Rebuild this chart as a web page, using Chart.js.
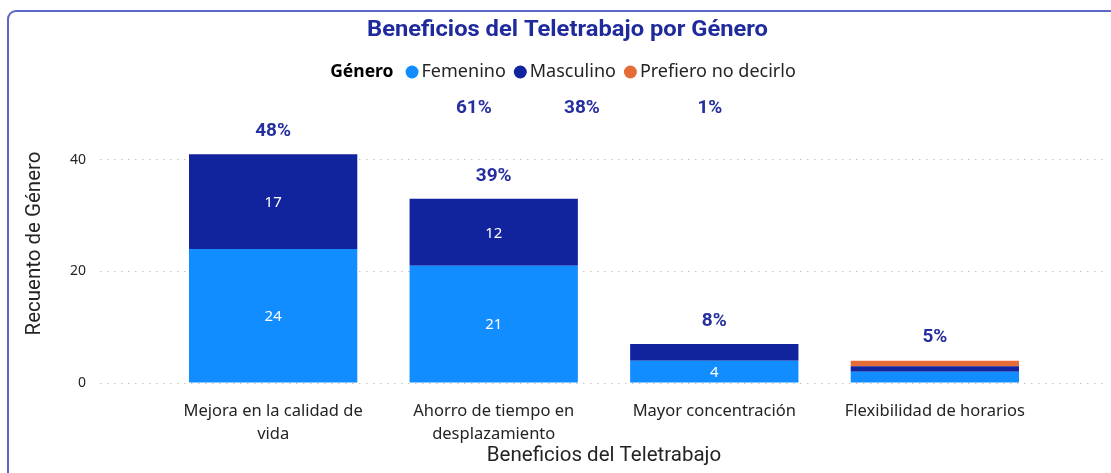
<!DOCTYPE html>
<html><head><meta charset="utf-8">
<script src="https://cdn.jsdelivr.net/npm/chart.js@4.4.1/dist/chart.umd.min.js"></script>
<style>
html,body{margin:0;padding:0;background:#fff;overflow:hidden;width:1111px;height:473px}
#frame{position:absolute;left:7px;top:10px;width:1130px;height:500px;border:2px solid #5d68c6;border-radius:9px;box-sizing:border-box}
#wrap{position:absolute;left:0;top:0;width:1111px;height:473px}
</style></head><body>
<div id="frame"></div>
<div id="wrap"><canvas id="c" width="1111" height="473"></canvas></div>
<script>
// ---- data ----
const categories = [["Mejora en la calidad de","vida"],["Ahorro de tiempo en","desplazamiento"],["Mayor concentración"],["Flexibilidad de horarios"]];
const seriesNames = ["Femenino","Masculino","Prefiero no decirlo"];
const femenino = [24,21,4,2];
const masculino = [17,12,3,1];
const prefiero = [0,0,0,1];
const totalPct = ["48%","39%","8%","5%"];
const extraPctText = ["61%","38%","1%"];
const extraPctAt = [0.91,1.40,1.98];
const yTicks = [0,20,40];

const colors = ["#118DFF","#12239E","#E66C37"];
const pctColor = "#25309E";
const txt = "#252423";
const FF = '"Segoe UI","Noto Sans","Open Sans",sans-serif';
const DIN = 'Roboto,"DejaVu Sans Condensed",sans-serif';

function toPts(arr){ return arr.map((v,i)=>({x:i,y:v})); }

const overlay = {
  id:'overlay',
  afterDatasetsDraw(chart){
    const {ctx, scales:{x,y}} = chart;
    ctx.save();
    ctx.textAlign='center'; ctx.textBaseline='middle';
    ctx.font = '15px '+FF; ctx.fillStyle='#fff';
    chart.data.datasets.forEach((ds,di)=>{
      const meta = chart.getDatasetMeta(di);
      meta.data.forEach((bar,i)=>{
        const v = ds.data[i].y;
        const h = Math.abs(bar.base - bar.y);
        if (v>0 && h>=20) ctx.fillText(String(v), bar.x, (bar.y+bar.base)/2+1);
      });
    });
    ctx.font = 'bold 19px '+DIN; ctx.fillStyle = pctColor;
    categories.forEach((c,i)=>{
      const tot = femenino[i]+masculino[i]+prefiero[i];
      ctx.fillText(totalPct[i], x.getPixelForValue(i), y.getPixelForValue(tot)-23);
    });
    extraPctText.forEach((t,i)=>{
      ctx.fillText(t, x.getPixelForValue(extraPctAt[i]), chart.chartArea.top+4);
    });
    ctx.restore();
  },
  afterDraw(chart){
    const ctx = chart.ctx;
    ctx.save();
    // title
    const title = "Beneficios del Teletrabajo por Género";
    ctx.font = 'bold 22px '+DIN;
    ctx.fillStyle = "#1F2A9C"; ctx.textBaseline='middle'; ctx.textAlign='left';
    const w = ctx.measureText(title).width;
    const target = 401, sx = target/w;
    ctx.save(); ctx.translate(567.5 - target/2, 30); ctx.scale(sx,1); ctx.fillText(title,0,0); ctx.restore();
    // legend
    const ly = 72;
    ctx.font = 'bold 17.5px '+FF;
    const head = "Género";
    const items = [{t:head,bold:true,w:ctx.measureText(head).width}];
    ctx.font = '18px '+FF;
    seriesNames.forEach((n,i)=>items.push({t:n,c:colors[i],w:ctx.measureText(n).width}));
    const r=6.5, gapHead=12, gapItem=8, gapDot=3;
    let total = items[0].w + gapHead;
    for(let i=1;i<items.length;i++){ total += 2*r + gapDot + items[i].w + (i<items.length-1?gapItem:0); }
    let cx = 563 - total/2;
    ctx.fillStyle = '#000'; ctx.font='bold 17.5px '+FF; ctx.fillText(head, cx, ly);
    cx += items[0].w + gapHead;
    ctx.font='18px '+FF;
    for(let i=1;i<items.length;i++){
      ctx.fillStyle = items[i].c; ctx.beginPath(); ctx.arc(cx+r, ly, r, 0, Math.PI*2); ctx.fill();
      cx += 2*r + gapDot;
      ctx.fillStyle = txt; ctx.fillText(items[i].t, cx, ly);
      cx += items[i].w + gapItem;
    }
    ctx.restore();
  }
};

new Chart(document.getElementById('c'), {
  type:'bar',
  data:{
    datasets:[
      {label:seriesNames[0], data:toPts(femenino), backgroundColor:colors[0]},
      {label:seriesNames[1], data:toPts(masculino), backgroundColor:colors[1]},
      {label:seriesNames[2], data:toPts(prefiero), backgroundColor:colors[2]}
    ]
  },
  options:{
    responsive:false, animation:false, devicePixelRatio:1, events:[],
    layout:{padding:{left:16,right:3,top:104,bottom:0}},
    datasets:{bar:{barPercentage:0.763,categoryPercentage:1,borderWidth:0}},
    plugins:{legend:{display:false},title:{display:false},tooltip:{enabled:false}},
    scales:{
      x:{type:'linear',min:-0.785,max:3.785,stacked:true,offset:false,
        grid:{display:false,drawTicks:false},border:{display:false},
        afterBuildTicks:s=>{s.ticks=categories.map((_,i)=>({value:i}));},
        afterFit:s=>{s.height=90;},
        ticks:{callback:v=>categories[v],autoSkip:false,maxRotation:0,minRotation:0,padding:17,
          color:txt,font:{family:FF,size:16.5,lineHeight:1.4}},
        title:{display:true,text:'Beneficios del Teletrabajo',color:txt,font:{family:DIN,size:20.5,lineHeight:1.1},padding:{top:0,bottom:6}}
      },
      y:{min:0,max:50,stacked:true,
        afterBuildTicks:s=>{s.ticks=yTicks.map(v=>({value:v}));},
        afterFit:s=>{s.width=84;},
        grid:{color:'#c8c6c4',lineWidth:1,drawTicks:false},
        border:{display:false,dash:[1.5,5.5]},
        ticks:{padding:14,color:txt,font:{family:FF,size:14}},
        title:{display:true,text:'Recuento de Género',color:txt,font:{family:DIN,size:20.5,lineHeight:1.1},padding:{top:8,bottom:0}}
      }
    }
  },
  plugins:[overlay]
});
</script>
</body></html>
